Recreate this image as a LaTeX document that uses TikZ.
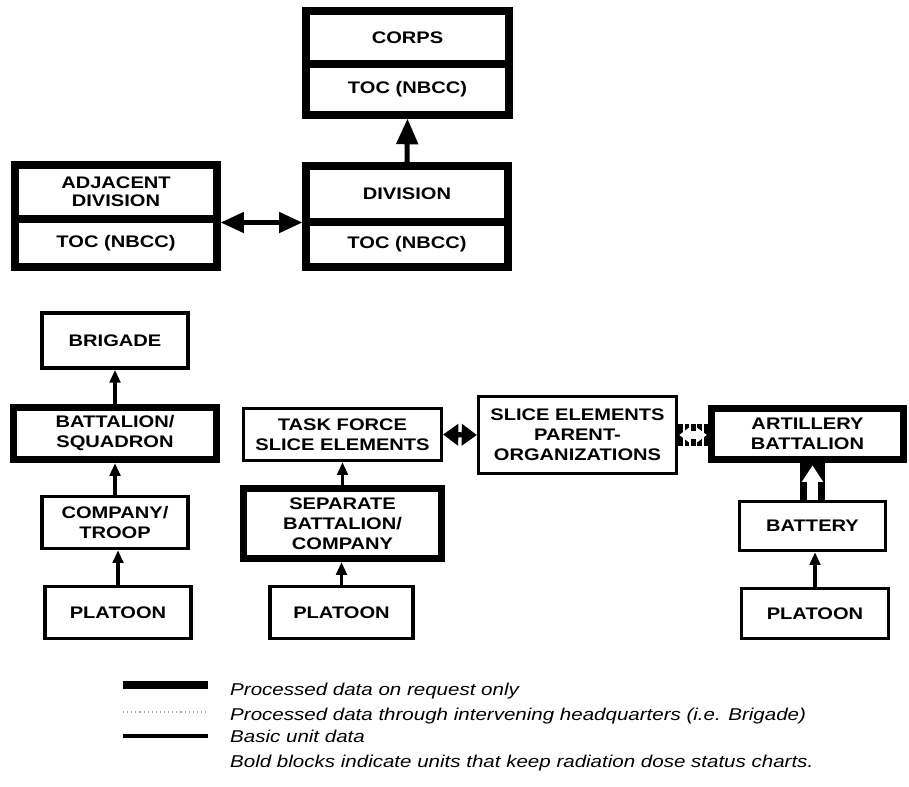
\documentclass[tikz,border=0pt]{standalone}
\usepackage{fontspec}
\usepackage{tikz}
\usetikzlibrary{arrows.meta, positioning}
\newfontfamily\diafont{Liberation Sans}[FakeStretch=1.2]

\begin{document}
\begin{tikzpicture}[x=0.03cm, y=-0.03cm,
    block/.style={draw, line width=3pt, fill=white, align=center, inner sep=1pt, font=\diafont\bfseries\fontsize{14.3}{17}\selectfont},
    boldblock/.style={block, line width=6pt},
    legtext/.style={anchor=base west, inner sep=0pt, font=\diafont\itshape\fontsize{14.6}{17}\selectfont},
    basic/.style={line width=3.4pt, -{Triangle[length=11pt, width=9pt]}},
    request/.style={line width=4.3pt, -{Triangle[length=22pt, width=18pt]}},
    requestboth/.style={line width=4.3pt, {Triangle[length=20pt, width=17pt]}-{Triangle[length=20pt, width=17pt]}},
    hollow/.style={line width=22pt, postaction={draw=white, line width=9pt, shorten >=2pt, -{Triangle[length=14pt, width=17pt]}}},
    hollowboth/.style={line width=18pt, dash pattern=on 4pt off 1.5pt, postaction={draw=white, solid, line width=6pt, shorten >=1pt, shorten <=1pt, {Triangle[length=9pt, width=13pt]}-{Triangle[length=9pt, width=13pt]}}}]
\useasboundingbox (0,0) rectangle (909,786);

% headquarters
\node[boldblock, minimum width=6.09cm, minimum height=1.59cm] (corps) at (407.5,37.5) {CORPS};
\node[boldblock, minimum width=6.09cm, minimum height=1.53cm, below=-6pt of corps] (corpstoc) {TOC (NBCC)};
\node[boldblock, minimum width=6.06cm, minimum height=1.68cm] (division) at (407,194) {DIVISION};
\node[boldblock, minimum width=6.06cm, minimum height=1.35cm, below=-6pt of division] (divtoc) {TOC (NBCC)};
\node[boldblock, minimum width=6.06cm, minimum height=1.62cm, font=\diafont\bfseries\fontsize{14.3}{15}\selectfont] (adjdiv) at (116,192) {ADJACENT\\DIVISION};
\node[boldblock, minimum width=6.06cm, minimum height=1.44cm, below=-6pt of adjdiv] (adjtoc) {TOC (NBCC)};

% left column
\node[block, minimum width=4.38cm, minimum height=1.65cm] (brigade) at (115,340.5) {BRIGADE};
\node[boldblock, minimum width=6.09cm, minimum height=1.56cm] (battalion) at (115,433.5) {BATTALION/\\SQUADRON};
\node[block, minimum width=4.38cm, minimum height=1.55cm] (company) at (115,522.5) {COMPANY/\\TROOP};
\node[block, minimum width=4.38cm, minimum height=1.55cm] (platoonA) at (118,612.5) {PLATOON};

% middle column
\node[block, minimum width=5.93cm, minimum height=1.55cm] (taskforce) at (342.5,434.5) {TASK FORCE\\SLICE ELEMENTS};
\node[boldblock, minimum width=5.94cm, minimum height=2.1cm] (sepbn) at (342.5,523.5) {SEPARATE\\BATTALION/\\COMPANY};
\node[block, minimum width=4.3cm, minimum height=1.55cm] (platoonB) at (341.5,612.5) {PLATOON};
\node[block, minimum width=5.93cm, minimum height=2.3cm] (slice) at (577.5,435) {SLICE ELEMENTS\\PARENT-\\ORGANIZATIONS};

% right column
\node[boldblock, minimum width=5.76cm, minimum height=1.53cm] (artillery) at (807.5,434) {ARTILLERY\\BATTALION};
\node[block, minimum width=4.37cm, minimum height=1.46cm] (battery) at (812.5,526) {BATTERY};
\node[block, minimum width=4.4cm, minimum height=1.49cm] (platoonC) at (815,613.5) {PLATOON};

% connectors
\draw[request] (division.north) -- (corpstoc.south);
\draw[requestboth] (adjdiv.south east) -- (adjdiv.south east -| division.west);
\draw[basic] (battalion.north) -- (brigade.south);
\draw[basic] (company.north) -- (battalion.south);
\draw[basic] (platoonA.north) -- (platoonA.north |- company.south);
\draw[basic] (sepbn.north) -- (taskforce.south);
\draw[basic] (platoonB.north) -- (platoonB.north |- sepbn.south);
\draw[requestboth, {Triangle[length=13pt, width=18pt]}-{Triangle[length=13pt, width=18pt]}] (taskforce.east) -- (slice.west);
\draw[hollowboth] (slice.east) -- (slice.east -| artillery.west);
\draw[hollow] (battery.north) -- (battery.north |- artillery.south);
\draw[basic] (platoonC.north) -- (platoonC.north |- battery.south);

% legend
\coordinate (s1a) at (123,685);
\coordinate (s1b) at (208,685);
\coordinate (s2a) at (123,712);
\coordinate (s2b) at (208,712);
\coordinate (s3a) at (123,736);
\coordinate (s3b) at (208,736);
\draw[line width=6.8pt] (s1a) -- (s1b);
\draw[black!35, line width=1.2pt, dash pattern=on 1pt off 2.5pt] (s2a) -- (s2b);
\draw[line width=3.4pt] (s3a) -- (s3b);
\node[legtext] (leg1) at (230,695) {Processed data on request only};
\node[legtext] (leg2) at (230,720) {Processed data through intervening headquarters (i.e. Brigade)};
\node[legtext] (leg3) at (230,742) {Basic unit data};
\node[legtext] (leg4) at (230,767) {Bold blocks indicate units that keep radiation dose status charts.};

\end{tikzpicture}
\end{document}
